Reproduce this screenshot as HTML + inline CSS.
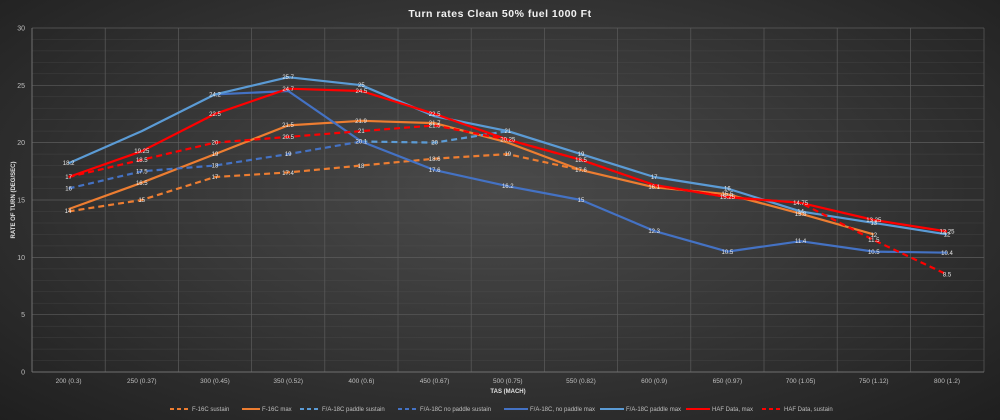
<!DOCTYPE html>
<html><head><meta charset="utf-8"><style>
html,body{margin:0;padding:0;width:1000px;height:420px;overflow:hidden;}
body{background:radial-gradient(ellipse at 50% 45%,#4a4a4a 0%,#383838 45%,#1f1f1f 100%);font-family:"Liberation Sans",sans-serif;}
svg text{font-family:"Liberation Sans",sans-serif;}
</style></head><body>
<svg width="1000" height="420" xmlns="http://www.w3.org/2000/svg">
<text x="500" y="17" fill="#f2f2f2" font-size="10.5" font-weight="bold" text-anchor="middle" letter-spacing="0.5">Turn rates Clean 50% fuel 1000 Ft</text>
<g stroke="#5a5a5a" stroke-width="0.5" opacity="0.45">
<line x1="32" x2="984" y1="360.5" y2="360.5"/><line x1="32" x2="984" y1="349.1" y2="349.1"/><line x1="32" x2="984" y1="337.6" y2="337.6"/><line x1="32" x2="984" y1="326.2" y2="326.2"/>
<line x1="32" x2="984" y1="303.2" y2="303.2"/><line x1="32" x2="984" y1="291.8" y2="291.8"/><line x1="32" x2="984" y1="280.3" y2="280.3"/><line x1="32" x2="984" y1="268.9" y2="268.9"/>
<line x1="32" x2="984" y1="245.9" y2="245.9"/><line x1="32" x2="984" y1="234.5" y2="234.5"/><line x1="32" x2="984" y1="223" y2="223"/><line x1="32" x2="984" y1="211.5" y2="211.5"/>
<line x1="32" x2="984" y1="188.5" y2="188.5"/><line x1="32" x2="984" y1="177" y2="177"/><line x1="32" x2="984" y1="165.6" y2="165.6"/><line x1="32" x2="984" y1="154.1" y2="154.1"/>
<line x1="32" x2="984" y1="131.1" y2="131.1"/><line x1="32" x2="984" y1="119.7" y2="119.7"/><line x1="32" x2="984" y1="108.2" y2="108.2"/><line x1="32" x2="984" y1="96.8" y2="96.8"/>
<line x1="32" x2="984" y1="73.8" y2="73.8"/><line x1="32" x2="984" y1="62.3" y2="62.3"/><line x1="32" x2="984" y1="50.9" y2="50.9"/><line x1="32" x2="984" y1="39.4" y2="39.4"/>
</g>
<g stroke="#5c5c5c" stroke-width="0.7">
<line x1="32" x2="984" y1="314.7" y2="314.7"/><line x1="32" x2="984" y1="257.4" y2="257.4"/><line x1="32" x2="984" y1="200" y2="200"/><line x1="32" x2="984" y1="142.6" y2="142.6"/><line x1="32" x2="984" y1="85.3" y2="85.3"/><line x1="32" x2="984" y1="28" y2="28"/>
<line x1="105.2" x2="105.2" y1="28" y2="372"/><line x1="178.4" x2="178.4" y1="28" y2="372"/><line x1="251.6" x2="251.6" y1="28" y2="372"/><line x1="324.8" x2="324.8" y1="28" y2="372"/><line x1="398" x2="398" y1="28" y2="372"/><line x1="471.2" x2="471.2" y1="28" y2="372"/><line x1="544.4" x2="544.4" y1="28" y2="372"/><line x1="617.6" x2="617.6" y1="28" y2="372"/><line x1="690.8" x2="690.8" y1="28" y2="372"/><line x1="764" x2="764" y1="28" y2="372"/><line x1="837.2" x2="837.2" y1="28" y2="372"/><line x1="910.4" x2="910.4" y1="28" y2="372"/><line x1="984" x2="984" y1="28" y2="372"/>
</g>
<line x1="32" x2="984" y1="372" y2="372" stroke="#707070" stroke-width="1"/>
<line x1="32" x2="32" y1="28" y2="372" stroke="#707070" stroke-width="1"/>
<g fill="#bfbfbf" font-size="7" text-anchor="end">
<text x="25" y="374.5">0</text><text x="25" y="317">5</text><text x="25" y="260">10</text><text x="25" y="202.5">15</text><text x="25" y="145">20</text><text x="25" y="88">25</text><text x="25" y="30.5">30</text>
</g>
<text transform="translate(15,200) rotate(-90)" fill="#e0e0e0" font-size="6" font-weight="bold" text-anchor="middle">RATE OF TURN (DEG/SEC)</text>
<g fill="#bfbfbf" font-size="6.5" text-anchor="middle">
<text x="68.6" y="383">200 (0.3)</text><text x="141.8" y="383">250 (0.37)</text><text x="215" y="383">300 (0.45)</text><text x="288.2" y="383">350 (0.52)</text><text x="361.4" y="383">400 (0.6)</text><text x="434.6" y="383">450 (0.67)</text><text x="507.8" y="383">500 (0.75)</text><text x="581" y="383">550 (0.82)</text><text x="654.2" y="383">600 (0.9)</text><text x="727.4" y="383">650 (0.97)</text><text x="800.6" y="383">700 (1.05)</text><text x="873.8" y="383">750 (1.12)</text><text x="947" y="383">800 (1.2)</text>
</g>
<text x="508" y="393" fill="#e0e0e0" font-size="6" font-weight="bold" text-anchor="middle">TAS (MACH)</text>
<g fill="none" stroke-width="2.2" stroke-linejoin="round">
<polyline stroke="#ed7d31" stroke-dasharray="6,4" points="68.6,211.4 141.8,200 215,177 288.2,172.4 361.4,165.5 434.6,158.7 507.8,154.1 581,170.1"/>
<polyline stroke="#ed7d31" points="68.6,209.1 141.8,182.7 215,154.1 288.2,125.4 361.4,120.8 434.6,123.1 507.8,142.6 581,170.1 654.2,187.3 727.4,194.2 800.6,213.7 873.8,234.4"/>
<polyline stroke="#4472c4" stroke-dasharray="6,4" points="68.6,188.5 141.8,171.3 215,165.5 288.2,154.1 361.4,141.5"/>
<polyline stroke="#5b9bd5" stroke-dasharray="6,4" points="361.4,141.5 434.6,142.6 507.8,131.1"/>
<polyline stroke="#4472c4" points="215,94.4 288.2,91 361.4,141.5 434.6,170.1 507.8,186.2 581,200 654.2,230.9 727.4,251.6 800.6,241.2 873.8,251.6 947,252.7"/>
<polyline stroke="#5b9bd5" points="68.6,163.2 141.8,131.1 215,94.4 288.2,77.2 361.4,85.2 434.6,116.2 507.8,131.1 581,154.1 654.2,177 727.4,188.5 800.6,211.4 873.8,222.9 947,234.4"/>
<polyline stroke="#ff0000" points="68.6,177 141.8,151.2 215,113.9 288.2,88.7 361.4,91 434.6,113.9 507.8,139.7 581,159.8 654.2,185 727.4,197.1 800.6,202.8 873.8,220 947,231.5"/>
<polyline stroke="#ff0000" stroke-dasharray="6,4" points="68.6,177 141.8,159.8 215,142.6 288.2,136.9 361.4,131.1 434.6,125.4 507.8,139.7 581,159.8 654.2,185 727.4,197.1 800.6,202.8 873.8,240.1 947,274.5"/>
</g>
<g fill="#e8e8e8" font-size="6" text-anchor="middle">
<text x="68" y="213">14</text><text x="141.8" y="202">15</text><text x="215" y="179">17</text><text x="288" y="175">17.4</text><text x="361" y="168">18</text><text x="434.6" y="161">18.6</text><text x="507.8" y="156">19</text><text x="581" y="172">17.6</text>
<text x="141.8" y="185">16.5</text><text x="215" y="156">19</text><text x="288" y="127">21.5</text><text x="361" y="123">21.9</text><text x="434.6" y="125">21.7</text><text x="654.2" y="189">16.1</text><text x="727.4" y="196">15.5</text><text x="800.6" y="216">13.8</text><text x="873.8" y="237">12</text>
<text x="68.6" y="190.5">16</text><text x="141.8" y="173.5">17.5</text><text x="215" y="167.5">18</text><text x="288.2" y="156">19</text><text x="361.4" y="143.5">20.1</text><text x="434.6" y="144.5">20</text><text x="507.8" y="133">21</text>
<text x="434.6" y="172">17.6</text><text x="507.8" y="188">16.2</text><text x="581" y="202">15</text><text x="654.2" y="233">12.3</text><text x="727.4" y="254">10.5</text><text x="800.6" y="243">11.4</text><text x="873.8" y="254">10.5</text><text x="947" y="255">10.4</text>
<text x="68.6" y="165">18.2</text><text x="215" y="96.5">24.2</text><text x="288.2" y="79">25.7</text><text x="361.4" y="87">25</text><text x="581" y="156">19</text><text x="654.2" y="179">17</text><text x="727.4" y="190.5">16</text><text x="800.6" y="213.5">14</text><text x="873.8" y="225">13</text><text x="947" y="236.5">12</text>
<text x="68.6" y="179">17</text><text x="141.8" y="153">19.25</text><text x="215" y="116">22.5</text><text x="288.2" y="91">24.7</text><text x="361.4" y="93">24.5</text><text x="434.6" y="116">22.5</text><text x="507.8" y="141.5">20.25</text><text x="581" y="162">18.5</text><text x="727.4" y="199">15.25</text><text x="800.6" y="205">14.75</text><text x="873.8" y="222">13.25</text><text x="947" y="233.5">12.25</text>
<text x="141.8" y="162">18.5</text><text x="215" y="144.5">20</text><text x="288.2" y="139">20.5</text><text x="361.4" y="133">21</text><text x="434.6" y="127.5">21.5</text><text x="873.8" y="242">11.5</text><text x="947" y="276.5">8.5</text>
</g>
<g font-size="6" fill="#bfbfbf">
<line x1="170" x2="190" y1="409" y2="409" stroke="#ed7d31" stroke-width="2" stroke-dasharray="4,3"/><text x="192" y="411">F-16C sustain</text>
<line x1="242" x2="260" y1="409" y2="409" stroke="#ed7d31" stroke-width="2"/><text x="262" y="411">F-16C max</text>
<line x1="300" x2="320" y1="409" y2="409" stroke="#5b9bd5" stroke-width="2" stroke-dasharray="4,3"/><text x="322" y="411">F/A-18C paddle sustain</text>
<line x1="398" x2="418" y1="409" y2="409" stroke="#4472c4" stroke-width="2" stroke-dasharray="4,3"/><text x="420" y="411">F/A-18C no paddle sustain</text>
<line x1="504" x2="528" y1="409" y2="409" stroke="#4472c4" stroke-width="2"/><text x="530" y="411">F/A-18C, no paddle max</text>
<line x1="600" x2="624" y1="409" y2="409" stroke="#5b9bd5" stroke-width="2"/><text x="626" y="411">F/A-18C paddle max</text>
<line x1="686" x2="710" y1="409" y2="409" stroke="#ff0000" stroke-width="2"/><text x="712" y="411">HAF Data, max</text>
<line x1="762" x2="782" y1="409" y2="409" stroke="#ff0000" stroke-width="2" stroke-dasharray="4,3"/><text x="784" y="411">HAF Data, sustain</text>
</g>
</svg>
</body></html>
